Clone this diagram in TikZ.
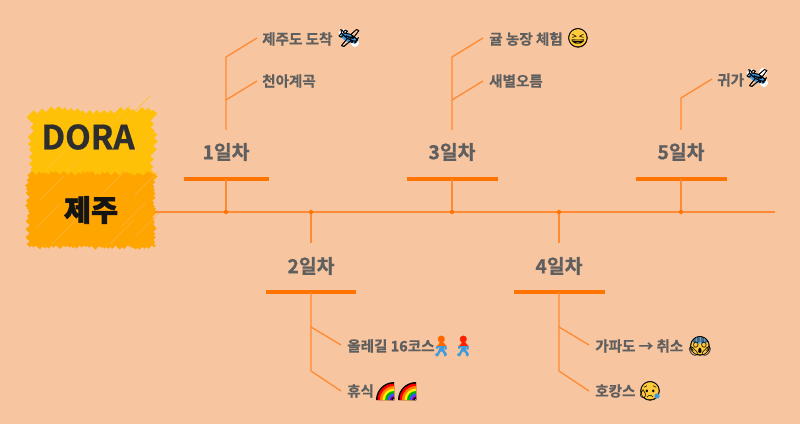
\documentclass[tikz,border=0pt]{standalone}
\usepackage{fontspec}
\setmainfont{Noto Sans CJK KR}
\newfontfamily\emo{Noto Emoji}
\newfontfamily\emob{Noto Emoji}[FakeBold=1.2]
\newfontfamily\lab{Noto Sans CJK KR Bold}[FakeBold=0.7]
\newfontfamily\blackf{Noto Sans CJK KR Black}[FakeBold=2]
\definecolor{bgc}{HTML}{F7C59F}
\definecolor{lnc}{HTML}{FF8A33}
\definecolor{barc}{HTML}{FF7400}
\definecolor{txtc}{HTML}{5F5F5F}
\definecolor{yel}{HTML}{FFC107}
\definecolor{org}{HTML}{FFA500}
\definecolor{emoY}{HTML}{FFCB3D}
\definecolor{emoB}{HTML}{3D9BE0}
\tikzset{
  conn/.style={lnc,line width=1pt},
  daybar/.style={barc,line width=2.4pt},
  daylabel/.style={font=\fontsize{14.5pt}{16pt}\selectfont\lab,text=txtc,inner sep=0pt},
  sublabel/.style={font=\fontsize{10.9pt}{12pt}\selectfont\lab,text=txtc,inner sep=0pt,anchor=west},
  emoji/.style={font=\fontsize{14pt}{15pt}\selectfont\emo,inner sep=0pt},
  emojib/.style={font=\fontsize{15pt}{16pt}\selectfont\emob,inner sep=0pt},
  planeglyph/.style={font=\fontsize{13pt}{14pt}\selectfont\emob,text=black,inner sep=0pt},
  dot/.style={circle,fill=barc,inner sep=0pt,minimum size=3.2pt},
  face/.style={circle,fill=emoY,draw=black,line width=.5pt,inner sep=0pt,minimum size=14pt},
  hachY/.style={yel,line width=4.4pt},
  hachO/.style={org,line width=3.2pt}
}
\begin{document}
\begin{tikzpicture}[x=0.75pt,y=-0.75pt]
\useasboundingbox (0,0) rectangle (800,424);
\fill[bgc] (0,0) rectangle (800,424);
\pgfmathsetseed{7}
% yellow scribble
\fill[yel] (36,118) rectangle (150,172);
\foreach \c in {148,155,...,336}{
  \pgfmathsetmacro{\a}{rnd*5}\pgfmathsetmacro{\b}{rnd*5}
  \pgfmathsetmacro{\sx}{max(33,\c-174)-\a}
  \pgfmathsetmacro{\sy}{\c-\sx}
  \pgfmathsetmacro{\ex}{min(151,\c-113)+\b}
  \pgfmathsetmacro{\ey}{\c-\ex}
  \draw[hachY] (\sx,\sy)--(\ex,\ey);
}
\foreach \p/\q in {48/168,70/146,104/132,128/158,60/178,124/122}{
  \draw[yel!70!bgc,line width=.5pt] (\p,\q)--++(26,-26);
}
% orange scribble
\fill[org] (34,180) rectangle (150,243);
\foreach \c in {206,210,...,400}{
  \pgfmathsetmacro{\a}{rnd*3}\pgfmathsetmacro{\b}{rnd*3}
  \pgfmathsetmacro{\sx}{max(29.5,\c-245.5)-\a}
  \pgfmathsetmacro{\sy}{\c-\sx}
  \pgfmathsetmacro{\ex}{min(152.5,\c-175.5)+\b}
  \pgfmathsetmacro{\ey}{\c-\ex}
  \draw[hachO] (\sx,\sy)--(\ex,\ey);
}
\foreach \p/\q in {36/228,52/244,110/244,134/196,122/226,40/200,100/196,136/236}{
  \draw[org!60!bgc,line width=.5pt] (\p,\q)--++(24,-24);
}
\node[font=\fontsize{25pt}{27pt}\selectfont\lab,text=black!82,inner sep=0pt] (dora) at (88,137) {DORA};
\node[font=\fontsize{22pt}{24pt}\selectfont\blackf,text=black!92,inner sep=0pt] (jeju) at (91,210) {제주};
\coordinate (start) at (155,212);
\coordinate (end) at (775,212);
\draw[conn] (start)--(end);
% day 1
\node[dot] (d1) at (226,212) {};
\coordinate (b1) at (226,179);
\draw[daybar] (184,179)--(269,179);
\draw[conn] (d1)--(b1);
\node[daylabel] (l1) at (226,152) {1일차};
\coordinate (s1) at (226,130);
\coordinate (k1) at (226,57);
\coordinate (k1b) at (226,100);
\coordinate (p1a) at (257,38);
\coordinate (p1b) at (257,81);
\node[sublabel] (t1a) at (262,39) {제주도 도착};
\node[sublabel] (t1b) at (262,81) {천아계곡};
\draw[conn] (s1)--(k1)--(p1a);
\draw[conn] (k1b)--(p1b);
\begin{scope}[shift={(349,38)}]
  \fill[white] (-6,-5) circle[radius=3pt] (6,5) circle[radius=3pt];
  \fill[emoB,rotate=-25] (0,0) ellipse[x radius=7pt,y radius=3pt];
\end{scope}
\node[planeglyph] (e1) at (349,38) {🛩};
% day 3
\node[dot] (d3) at (452,212) {};
\coordinate (b3) at (452,179);
\draw[daybar] (407,179)--(498,179);
\draw[conn] (d3)--(b3);
\node[daylabel] (l3) at (452,152) {3일차};
\coordinate (s3) at (452,130);
\coordinate (k3) at (452,57);
\coordinate (k3b) at (452,100);
\coordinate (p3a) at (483,38);
\coordinate (p3b) at (483,81);
\node[sublabel] (t3a) at (489,39) {귤 농장 체험};
\node[sublabel] (t3b) at (489,81) {새별오름};
\draw[conn] (s3)--(k3)--(p3a);
\draw[conn] (k3b)--(p3b);
\node[face] (f3) at (578,38) {};
\node[emoji] (e3) at (578,38) {😆};
% day 5
\node[dot] (d5) at (681,212) {};
\coordinate (b5) at (681,179);
\draw[daybar] (636,179)--(727,179);
\draw[conn] (d5)--(b5);
\node[daylabel] (l5) at (681,152) {5일차};
\coordinate (s5) at (681,130);
\coordinate (k5) at (681,98);
\coordinate (p5a) at (712,79);
\node[sublabel] (t5a) at (717,80) {귀가};
\draw[conn] (s5)--(k5)--(p5a);
\begin{scope}[shift={(757,78)}]
  \fill[white] (-6,-5) circle[radius=3pt] (6,-6) circle[radius=3pt] (7,5) circle[radius=3pt];
  \fill[emoB,rotate=-25] (0,0) ellipse[x radius=7pt,y radius=3pt];
\end{scope}
\node[planeglyph] (e5) at (757,78) {🛩};
% day 2
\node[dot] (d2) at (311,212) {};
\coordinate (a2) at (311,243);
\draw[conn] (d2)--(a2);
\node[daylabel] (l2) at (311,266) {2일차};
\draw[daybar] (266,292)--(356,292);
\coordinate (b2) at (311,292);
\coordinate (k2a) at (311,327);
\coordinate (k2b) at (311,371);
\coordinate (p2a) at (341,345);
\coordinate (p2b) at (341,391);
\node[sublabel] (t2a) at (347,346) {올레길 16코스};
\node[sublabel] (t2b) at (347,391) {휴식};
\draw[conn] (b2)--(k2b)--(p2b);
\draw[conn] (k2a)--(p2a);
\begin{scope}\clip (430,330) rectangle (475,346);
\node[emojib,text=orange!80!red] (w1) at (441,346) {🚶};
\node[emojib,text=red!75!orange] (w2) at (463,346) {🚶};
\end{scope}
\begin{scope}\clip (430,346) rectangle (475,362);
\node[emojib,text=emoB] (w3) at (441,346) {🚶};
\node[emojib,text=emoB] (w4) at (463,346) {🚶};
\end{scope}
% rainbows
\foreach \x in {394,416}{
  \foreach \r/\c in {18/black,16.5/red,14/orange,11.5/yellow,9/green!70!black,6.5/blue!70!white,4/violet}{
    \fill[\c] (\x,400)--++(-\r,0) arc[start angle=180,end angle=90,radius=\r*0.75pt]--cycle;
  }
  \fill[black] (\x,400)--++(-2.5,0) arc[start angle=180,end angle=90,radius=1.9pt]--cycle;
  \fill[bgc] (\x,400)--++(-1.2,0) arc[start angle=180,end angle=90,radius=.9pt]--cycle;
}
% day 4
\node[dot] (d4) at (559,212) {};
\coordinate (a4) at (559,243);
\draw[conn] (d4)--(a4);
\node[daylabel] (l4) at (559,266) {4일차};
\draw[daybar] (514,292)--(605,292);
\coordinate (b4) at (559,292);
\coordinate (k4a) at (559,327);
\coordinate (k4b) at (559,371);
\coordinate (p4a) at (589,345);
\coordinate (p4b) at (589,391);
\node[sublabel] (t4a) at (595,346) {가파도 → 취소};
\node[sublabel] (t4b) at (595,391) {호캉스};
\draw[conn] (b4)--(k4b)--(p4b);
\draw[conn] (k4a)--(p4a);
\node[face] (f4a) at (700,346) {};
\begin{scope}
\clip (700,346) circle[radius=7pt];
\fill[emoB!70!white] (700,339) ellipse[x radius=7pt,y radius=3.5pt];
\end{scope}
\node[emoji] (e4a) at (700,346) {😱};
\node[face] (f4b) at (650,391) {};
\node[emoji] (e4b) at (650,391) {😥};
\fill[emoB] (657,396) circle[radius=2pt];
\end{tikzpicture}
\end{document}
